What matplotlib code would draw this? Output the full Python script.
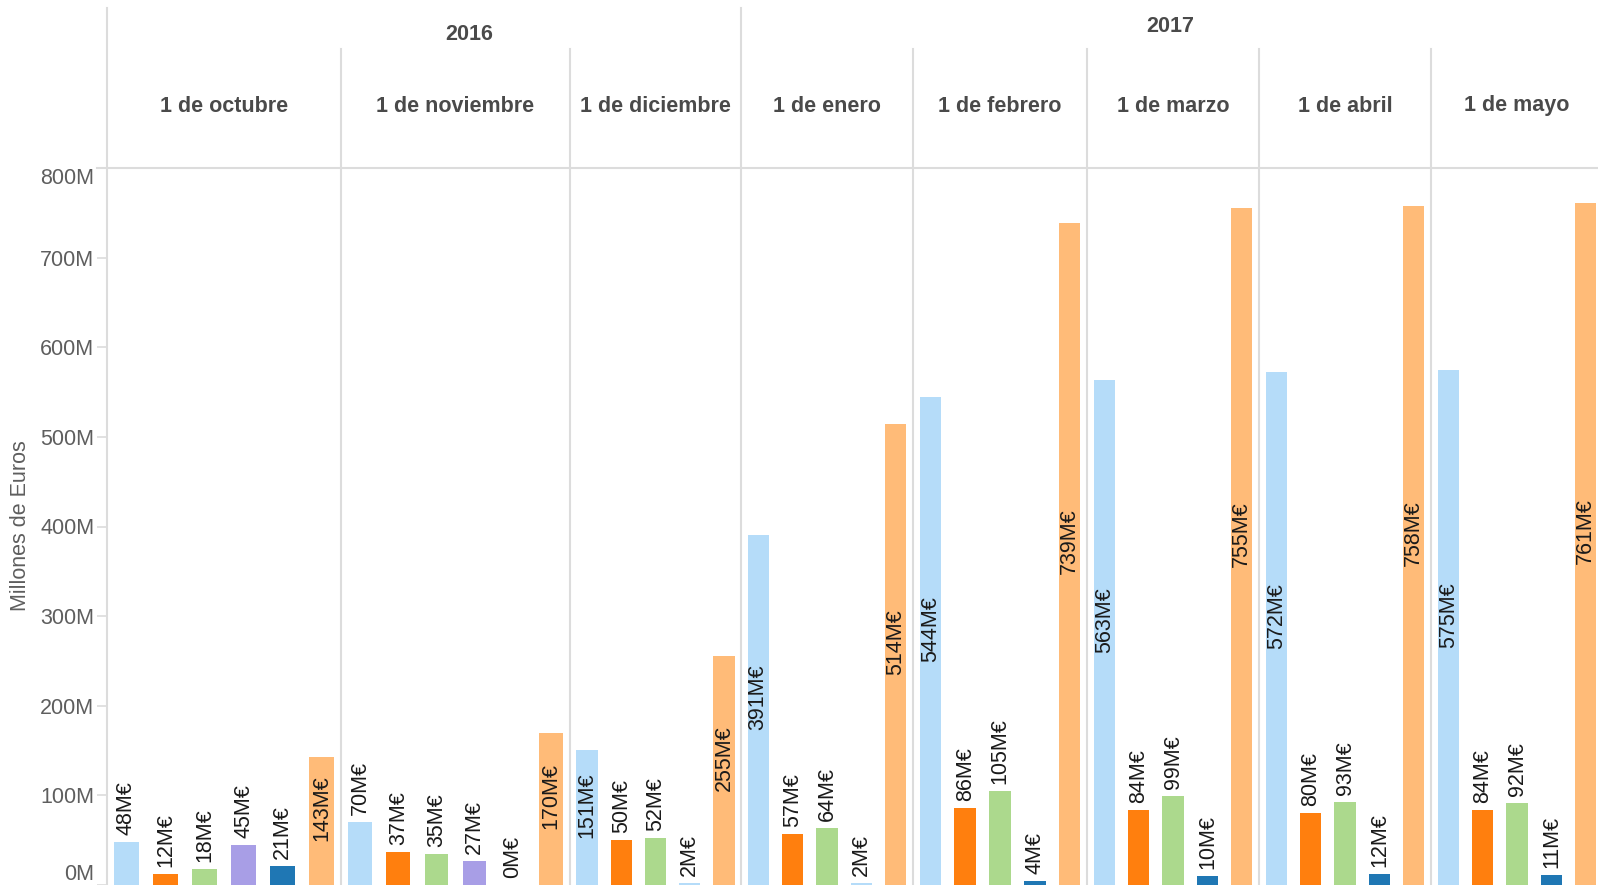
import numpy as np
import matplotlib
matplotlib.use('Agg')
import matplotlib.pyplot as plt

plt.rcParams['font.family'] = ['Liberation Sans', 'DejaVu Sans']

# data (millones de euros) per month, in drawing order inside each month
months = ['1 de octubre', '1 de noviembre', '1 de diciembre', '1 de enero',
          '1 de febrero', '1 de marzo', '1 de abril', '1 de mayo']
years = ['2016', '2017']
serie_a = [48, 70, 151, 391, 544, 563, 572, 575]        # azul claro
serie_b = [12, 37, 50, 57, 86, 84, 80, 84]              # naranja
serie_c = [18, 35, 52, 64, 105, 99, 93, 92]             # verde
serie_d = [45, 27, None, None, None, None, None, None]  # morado
serie_f = [None, None, 2, 2, None, None, None, None]    # azul claro (pequeña)
serie_e = [21, 0, None, None, 4, 10, 12, 11]            # azul oscuro
serie_g = [143, 170, 255, 514, 739, 755, 758, 761]      # naranja claro

C_LB = '#b5dcf9'
C_OR = '#ff7f0e'
C_GR = '#acd98d'
C_PU = '#a89ee6'
C_DB = '#1f77b4'
C_LO = '#ffbb78'
series = [(serie_a, C_LB), (serie_b, C_OR), (serie_c, C_GR), (serie_d, C_PU),
          (serie_f, C_LB), (serie_e, C_DB), (serie_g, C_LO)]

# layout (pixels of the 1598x885 canvas)
W, H = 1598, 885
x0 = 107
top = 168
panel_w = [234, 229, 171, 172, 174, 172, 172, 172]
edges = np.concatenate([[0], np.cumsum(panel_w)])
grid_c = '#dcdcdc'
head_c = '#4a4a4a'
tick_c = '#5e5e5e'

fig = plt.figure(figsize=(W/100, H/100), dpi=100)

# overlay in pixel coords for header and separators
ov = fig.add_axes([0, 0, 1, 1])
ov.set_xlim(0, W)
ov.set_ylim(H, 0)
ov.axis('off')
ov.plot([97, W], [top, top], color=grid_c, lw=1.5)
ov.plot([x0, x0], [8, H], color=grid_c, lw=1.5)
year_split = 3
for i, e in enumerate(edges[1:-1], start=1):
    y_start = 8 if i == year_split else 49
    ov.plot([x0+e, x0+e], [y_start, H], color=grid_c, lw=1.5)
for i, m in enumerate(months):
    cx = x0 + (edges[i] + edges[i+1]) / 2
    ov.text(cx, 106, m, ha='center', va='center', fontsize=15.5,
            fontweight='bold', color=head_c)
ov.text(469, 34, years[0], ha='center', va='center', fontsize=15.5,
        fontweight='bold', color=head_c)
ov.text(1170, 26, years[1], ha='center', va='center', fontsize=15.5,
        fontweight='bold', color=head_c)
fig.text(21/W, 1-526/H, 'Millones de Euros', rotation=90, ha='center',
         va='center', fontsize=15.5, color=tick_c)

# main bar axes
ax = fig.add_axes([x0/W, 0, (W-x0)/W, (H-top)/H])
ax.patch.set_alpha(0)
ax.set_xlim(0, W-x0)
ax.set_ylim(0, 800)
for s in ax.spines.values():
    s.set_visible(False)
ax.set_xticks([])
ax.set_yticks(np.arange(0, 801, 100))
ax.set_yticklabels(['%dM' % v for v in range(0, 801, 100)])
ax.tick_params(axis='y', length=7.2, width=1.2, color=grid_c, pad=2,
               labelsize=15.5, labelcolor=tick_c)
labs = ax.get_yticklabels()
labs[0].set_va('bottom')
labs[-1].set_va('top')

for p in range(len(months)):
    items = [(vals[p], col) for vals, col in series if vals[p] is not None]
    slot = panel_w[p] / len(items)
    for i, (v, col) in enumerate(items):
        xc = edges[p] + (i + 0.5) * slot
        ax.bar(xc, v, width=0.62*slot, color=col, edgecolor='none')
        txt = '%dM€' % v
        if v >= 120:
            ax.text(xc, v/2 + 14, txt, rotation=90, ha='center', va='center',
                    fontsize=15.5, color='#1a1a1a')
        else:
            ax.annotate(txt, (xc, v), xytext=(0, 5), textcoords='offset points',
                        rotation=90, ha='center', va='bottom', fontsize=15.5,
                        color='#1a1a1a')

plt.savefig('out.png', dpi=100)
